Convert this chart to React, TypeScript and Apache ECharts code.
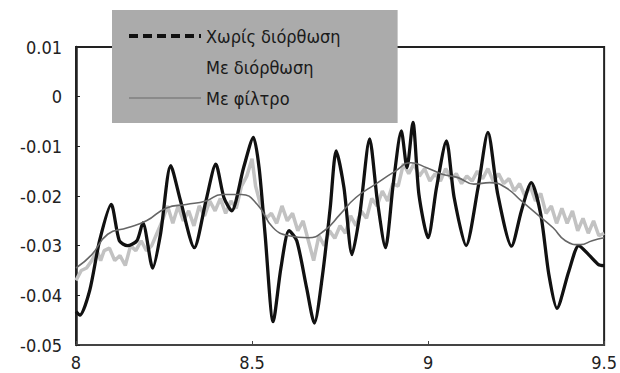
import React, { useEffect, useRef } from "react";
import * as echarts from "echarts";

const seriesNames = ["Χωρίς διόρθωση", "Με διόρθωση", "Με φίλτρο"];

const xTicks = [8, 8.5, 9, 9.5];
const yTicks = [0.01, 0, -0.01, -0.02, -0.03, -0.04, -0.05];

// Χωρίς διόρθωση (black)
const blackX = [8.0, 8.011, 8.039, 8.067, 8.1, 8.123, 8.146, 8.173, 8.19, 8.218, 8.24, 8.269, 8.297, 8.336, 8.369, 8.397, 8.42, 8.442, 8.476, 8.504, 8.52, 8.537, 8.56, 8.582, 8.605, 8.627, 8.655, 8.677, 8.7, 8.722, 8.739, 8.761, 8.784, 8.806, 8.834, 8.856, 8.879, 8.901, 8.924, 8.94, 8.957, 8.974, 9.0, 9.024, 9.052, 9.074, 9.108, 9.142, 9.17, 9.198, 9.237, 9.265, 9.293, 9.32, 9.343, 9.366, 9.4, 9.428, 9.456, 9.484, 9.5];
const blackY = [-0.0433, -0.044, -0.039, -0.029, -0.0217, -0.029, -0.030, -0.029, -0.0254, -0.0345, -0.0277, -0.0139, -0.021, -0.0304, -0.021, -0.0136, -0.0203, -0.023, -0.0143, -0.0082, -0.0143, -0.0277, -0.0453, -0.0345, -0.027, -0.029, -0.0385, -0.0456, -0.036, -0.0224, -0.0109, -0.0183, -0.0318, -0.0237, -0.0085, -0.021, -0.0304, -0.0176, -0.0069, -0.0143, -0.0052, -0.0197, -0.0284, -0.0183, -0.0089, -0.0203, -0.030, -0.0183, -0.0072, -0.0197, -0.0301, -0.023, -0.0173, -0.0237, -0.0358, -0.0426, -0.0351, -0.030, -0.0318, -0.0338, -0.034];

// Με διόρθωση (light grey, noisy)
const greyX = [8.0, 8.015, 8.03, 8.045, 8.06, 8.07, 8.08, 8.095, 8.11, 8.125, 8.14, 8.155, 8.17, 8.185, 8.2, 8.215, 8.23, 8.245, 8.26, 8.275, 8.29, 8.305, 8.32, 8.335, 8.35, 8.365, 8.38, 8.395, 8.41, 8.425, 8.44, 8.455, 8.47, 8.485, 8.5, 8.51, 8.525, 8.54, 8.555, 8.57, 8.585, 8.6, 8.615, 8.63, 8.645, 8.66, 8.675, 8.69, 8.705, 8.72, 8.735, 8.75, 8.765, 8.78, 8.795, 8.81, 8.825, 8.84, 8.855, 8.87, 8.885, 8.9, 8.915, 8.93, 8.945, 8.96, 8.975, 8.99, 9.005, 9.02, 9.035, 9.05, 9.065, 9.08, 9.095, 9.11, 9.125, 9.14, 9.155, 9.17, 9.185, 9.2, 9.215, 9.23, 9.245, 9.26, 9.275, 9.29, 9.305, 9.32, 9.335, 9.35, 9.365, 9.38, 9.395, 9.41, 9.425, 9.44, 9.455, 9.47, 9.485, 9.5];
const greyY = [-0.037, -0.035, -0.0345, -0.033, -0.031, -0.033, -0.031, -0.0305, -0.033, -0.032, -0.034, -0.030, -0.031, -0.029, -0.031, -0.030, -0.0275, -0.025, -0.022, -0.0255, -0.022, -0.025, -0.023, -0.026, -0.022, -0.024, -0.021, -0.023, -0.0205, -0.0235, -0.021, -0.0225, -0.018, -0.016, -0.0125, -0.018, -0.022, -0.0245, -0.0235, -0.0255, -0.022, -0.025, -0.0235, -0.027, -0.025, -0.029, -0.033, -0.028, -0.030, -0.027, -0.0285, -0.026, -0.0275, -0.024, -0.026, -0.023, -0.0245, -0.0205, -0.022, -0.019, -0.021, -0.0175, -0.018, -0.0135, -0.0155, -0.0135, -0.016, -0.0145, -0.017, -0.0155, -0.017, -0.0145, -0.0165, -0.0155, -0.0175, -0.016, -0.017, -0.015, -0.0165, -0.0145, -0.017, -0.0155, -0.0175, -0.0165, -0.019, -0.0175, -0.020, -0.018, -0.021, -0.0195, -0.0235, -0.022, -0.0255, -0.0225, -0.0255, -0.023, -0.027, -0.0245, -0.0275, -0.025, -0.028, -0.0275];

// Με φίλτρο (smooth grey)
const filterX = [8.0, 8.045, 8.09, 8.146, 8.2, 8.257, 8.313, 8.369, 8.414, 8.47, 8.515, 8.56, 8.604, 8.66, 8.705, 8.75, 8.795, 8.851, 8.907, 8.951, 8.996, 9.04, 9.085, 9.13, 9.175, 9.22, 9.265, 9.31, 9.355, 9.39, 9.433, 9.466, 9.5];
const filterY = [-0.0345, -0.0318, -0.0277, -0.0264, -0.025, -0.0224, -0.0217, -0.021, -0.0197, -0.0197, -0.0217, -0.0264, -0.028, -0.0284, -0.027, -0.0237, -0.0203, -0.0176, -0.015, -0.0133, -0.0143, -0.0156, -0.0163, -0.0176, -0.0173, -0.0183, -0.021, -0.0237, -0.0264, -0.029, -0.0298, -0.029, -0.0284];

const pairs = (xs: number[], ys: number[]) => xs.map((x, i) => [x, ys[i]]);

const FONT = "'DejaVu Sans Condensed', 'Liberation Sans Narrow', 'DejaVu Sans', sans-serif";

export default function App() {
  const ref = useRef<HTMLDivElement>(null);
  useEffect(() => {
    if (!ref.current) return;
    const chart = echarts.init(ref.current, null, { renderer: "svg" });
    chart.setOption({
      animation: false,
      backgroundColor: "#ffffff",
      grid: {
        left: 76,
        right: 13,
        top: 47,
        bottom: 28,
        show: true,
        borderColor: "#222",
        borderWidth: 2,
        backgroundColor: "transparent",
      },
      legend: {
        orient: "vertical",
        left: 112,
        top: 10,
        padding: [17, 57, 16, 15],
        itemGap: 13,
        itemWidth: 72,
        itemHeight: 14,
        backgroundColor: "#ababab",
        textStyle: { fontFamily: FONT, fontSize: 18, color: "#1a1a1a" },
        data: [
          { name: seriesNames[0], itemStyle: { opacity: 0 }, lineStyle: { type: [9, 5], width: 4, color: "#111" } },
          { name: seriesNames[1], itemStyle: { opacity: 0 }, lineStyle: { opacity: 0 } },
          { name: seriesNames[2], itemStyle: { opacity: 0 }, lineStyle: { width: 2, color: "#8a8a8a" } },
        ],
      },
      xAxis: {
        type: "value",
        min: xTicks[0],
        max: xTicks[xTicks.length - 1],
        interval: 0.5,
        splitLine: { show: false },
        axisLine: { show: true, onZero: false, lineStyle: { color: "#444", width: 2 } },
        axisTick: { show: true, inside: true, length: 4, lineStyle: { color: "#444" } },
        axisLabel: { fontFamily: FONT, fontSize: 18, color: "#222", margin: 8 },
      },
      yAxis: {
        type: "value",
        min: yTicks[yTicks.length - 1],
        max: yTicks[0],
        interval: 0.01,
        splitLine: { show: false },
        axisLine: { show: true, onZero: false, lineStyle: { color: "#222", width: 2.5 } },
        axisTick: { show: true, inside: true, length: 4, lineStyle: { color: "#222" } },
        axisLabel: { fontFamily: FONT, fontSize: 18, color: "#222", margin: 14 },
      },
      series: [
        {
          name: seriesNames[1],
          type: "line",
          data: pairs(greyX, greyY),
          showSymbol: false,
          lineStyle: { color: "#c2c2c2", width: 3.5 },
          itemStyle: { color: "#c2c2c2" },
          z: 1,
        },
        {
          name: seriesNames[0],
          type: "line",
          data: pairs(blackX, blackY),
          smooth: 0.25,
          showSymbol: false,
          lineStyle: { color: "#111", width: 3.3 },
          itemStyle: { color: "#111" },
          z: 2,
        },
        {
          name: seriesNames[2],
          type: "line",
          data: pairs(filterX, filterY),
          smooth: true,
          showSymbol: false,
          lineStyle: { color: "#666", width: 1.6 },
          itemStyle: { color: "#666" },
          z: 3,
        },
      ],
    });
    return () => chart.dispose();
  }, []);
  return <div ref={ref} style={{ width: 620, height: 373, position: "absolute", left: 0, top: 0 }} />;
}
